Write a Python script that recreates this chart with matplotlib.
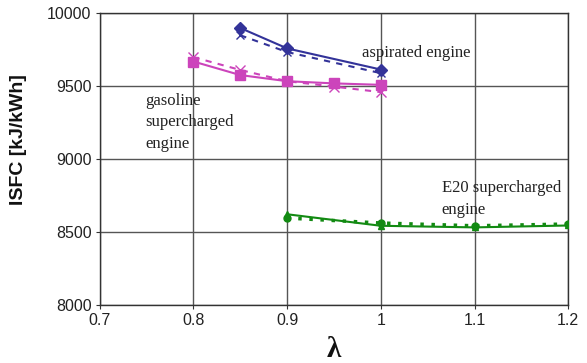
import matplotlib
matplotlib.use('Agg')
import matplotlib.pyplot as plt

# --- data ---
lam_asp = [0.85, 0.9, 1.0]
asp_solid = [9900, 9760, 9615]
asp_dash = [9850, 9735, 9590]

lam_gas = [0.8, 0.85, 0.9, 0.95, 1.0]
gas_solid = [9670, 9577, 9535, 9520, 9510]
gas_dash = [9700, 9612, 9535, 9498, 9460]

lam_e20 = [0.9, 1.0, 1.1, 1.2]
e20_solid = [8622, 8543, 8532, 8545]
e20_dash = [8596, 8562, 8543, 8555]

x_ticks = [0.7, 0.8, 0.9, 1.0, 1.1, 1.2]
x_ticklabels = ['0.7', '0.8', '0.9', '1', '1.1', '1.2']
y_ticks = [8000, 8500, 9000, 9500, 10000]

BLUE = '#333399'
MAG = '#cc44bb'
GREEN = '#128a12'

plt.rcParams['font.family'] = ['Liberation Sans', 'DejaVu Sans']

fig = plt.figure(figsize=(5.87, 3.63), dpi=100)
ax = fig.add_axes([0.170, 0.160, 0.798, 0.803])

# aspirated
ax.plot(lam_asp, asp_solid, color=BLUE, lw=1.5, marker='D', ms=6, zorder=4)
ax.plot(lam_asp, asp_dash, color=BLUE, lw=1.5, ls=(0, (3, 3)), marker='x', ms=6, zorder=3)
# gasoline supercharged
ax.plot(lam_gas, gas_solid, color=MAG, lw=1.5, marker='s', ms=7, zorder=4)
ax.plot(lam_gas, gas_dash, color=MAG, lw=1.5, ls=(0, (3, 3)), marker='x', ms=7, zorder=3)
# E20 supercharged
ax.plot(lam_e20, e20_solid, color=GREEN, lw=1.5, marker='^', ms=5, zorder=4)
ax.plot(lam_e20, e20_dash, color=GREEN, lw=2.5, ls=(0, (1, 2.2)), marker='o', ms=5, zorder=3)

ax.set_xlim(0.7, 1.2)
ax.set_ylim(8000, 10000)
ax.set_xticks(x_ticks)
ax.set_xticklabels(x_ticklabels)
ax.set_yticks(y_ticks)
ax.tick_params(labelsize=11.5, labelcolor='#222222', direction='out', length=3,
               color='#333333', pad=3)
ax.grid(True, color='#555555', lw=1.0)
ax.set_axisbelow(True)
for s in ax.spines.values():
    s.set_color('#333333')
    s.set_linewidth(1.0)

ax.set_ylabel('ISFC [kJ/kWh]', fontsize=14, fontweight='bold', color='#111111')
ax.yaxis.set_label_coords(-0.156, 0.566)
ax.set_xlabel('λ', fontsize=21, fontweight='bold', family='Liberation Serif', color='#111111')
ax.xaxis.set_label_coords(0.5, -0.105)

serif = dict(family='Liberation Serif', fontsize=12, color='#222222')
ax.text(0.98, 9701, 'aspirated engine', va='baseline', **serif)
ax.text(0.749, 9454, 'gasoline\nsupercharged\nengine', va='top', linespacing=1.45, **serif)
ax.text(1.065, 8856, 'E20 supercharged\nengine', va='top', linespacing=1.45, **serif)

plt.savefig('out.png', dpi=100)
